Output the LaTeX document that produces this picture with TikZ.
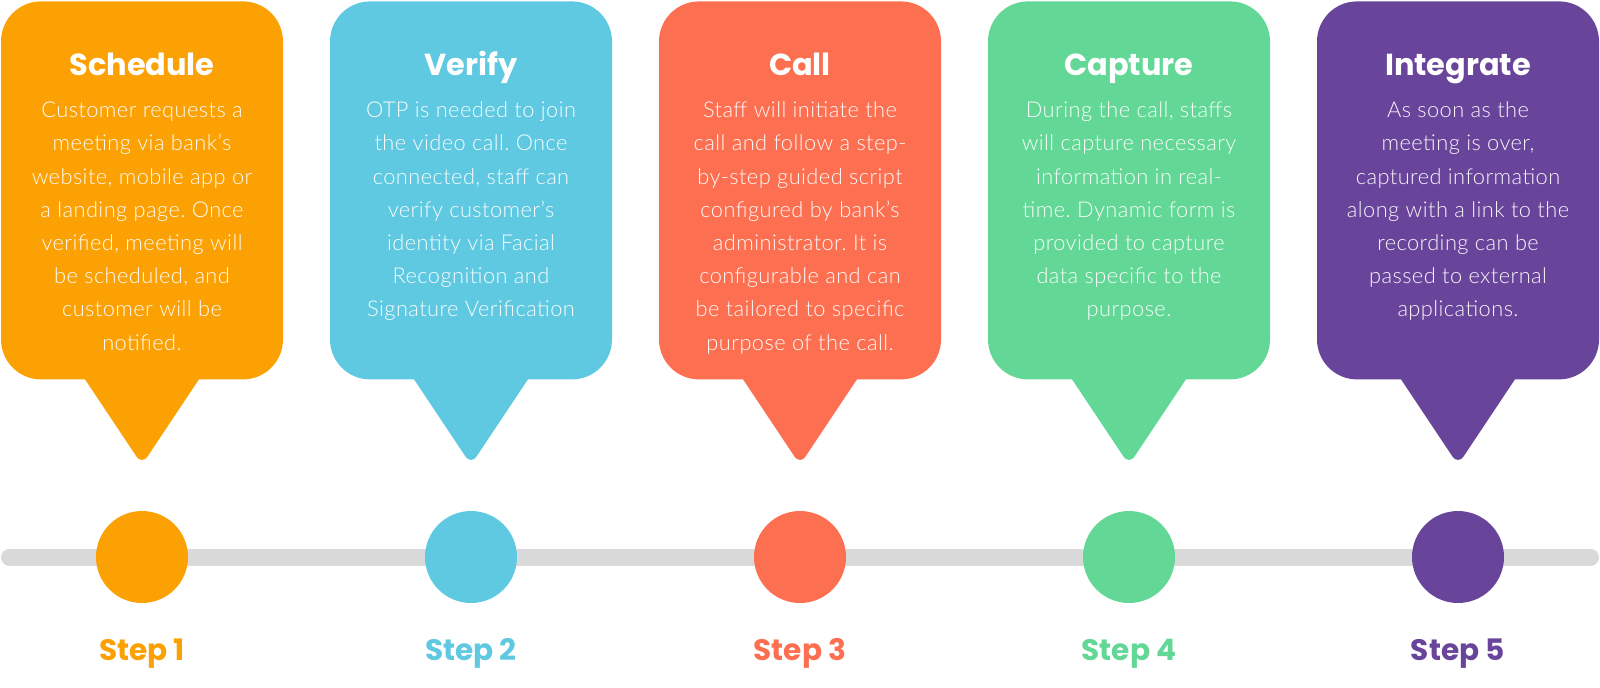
\documentclass[tikz,border=0pt]{standalone}
\usepackage{fontspec}
\newfontfamily\popfont{Poppins}
\newfontfamily\latofont{Lato Light}[LetterSpace=2.0]
\usetikzlibrary{calc}
\definecolor{cA}{HTML}{FBA104}
\definecolor{cB}{HTML}{5FC9E2}
\definecolor{cC}{HTML}{FC7051}
\definecolor{cD}{HTML}{63D896}
\definecolor{cE}{HTML}{69449B}
\definecolor{barcol}{HTML}{D9D9D9}
\tikzset{
  bubble/.style={rounded corners=20pt, minimum width=141pt, minimum height=189pt, inner sep=0pt, anchor=north},
  titletext/.style={font=\popfont\bfseries\fontsize{15.2}{18}\selectfont, text=white, anchor=base, inner sep=0pt},
  bodytext/.style={font=\latofont\fontsize{10.9}{16.6}\selectfont\frenchspacing, text=white, text opacity=0.95, anchor=north, inner sep=0pt, align=center},
  dot/.style={circle, minimum size=46pt, inner sep=0pt},
  steptext/.style={font=\popfont\bfseries\fontsize{14.8}{17}\selectfont, anchor=base, inner sep=0pt},
}
\newcommand\stepbubble[5]{%
  \node[bubble, fill=#3] (box#1) at (#2,1) {};
  \fill[#3, rounded corners=5pt] ($(box#1.south)+(-70,-20)$) -- ($(box#1.south)+(0,85)$) -- ($(box#1.south)+(70,-20)$) -- cycle;
  \node[titletext] (title#1) at (#2,75) {#4};
  \node[bodytext] (body#1) at (#2,94) {\strut #5};
  \node[dot, fill=#3] (dot#1) at (#2,557) {};
  \node[steptext, text=#3] (label#1) at (#2,660) {Step #1};
}
\begin{document}
\begin{tikzpicture}[x=0.5pt,y=-0.5pt]
\useasboundingbox (0,0) rectangle (1600,687);
\coordinate (barL) at (9.5,557);
\coordinate (barR) at (1590.5,557);
\draw[barcol, line width=8.5pt, line cap=round] (barL) -- (barR);
\stepbubble{1}{142}{cA}{Schedule}{Customer requests a\\meeting via bank’s\\website, mobile app or\\a landing page. Once\\verified, meeting will\\be scheduled, and\\customer will be\\notified.}
\stepbubble{2}{471}{cB}{Verify}{OTP is needed to join\\the video call. Once\\connected, staff can\\verify customer’s\\identity via Facial\\Recognition and\\Signature Verification}
\stepbubble{3}{800}{cC}{Call}{Staff will initiate the\\call and follow a step-\\by-step guided script\\configured by bank’s\\administrator. It is\\configurable and can\\be tailored to specific\\purpose of the call.}
\stepbubble{4}{1129}{cD}{Capture}{During the call, staffs\\will capture necessary\\information in real-\\time. Dynamic form is\\provided to capture\\data specific to the\\purpose.}
\stepbubble{5}{1458}{cE}{Integrate}{As soon as the\\meeting is over,\\captured information\\along with a link to the\\recording can be\\passed to external\\applications.}
\end{tikzpicture}
\end{document}
